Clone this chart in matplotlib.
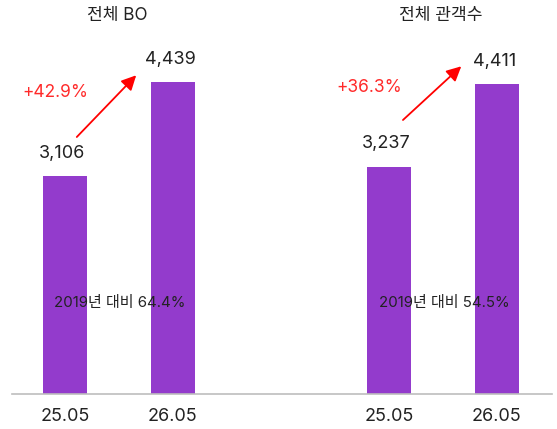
import matplotlib
matplotlib.use("Agg")
import matplotlib.pyplot as plt
from matplotlib.patches import FancyArrowPatch

plt.rcParams['font.family'] = ['Inter', 'Noto Sans CJK KR', 'DejaVu Sans']

panel_titles = ["전체 BO", "전체 관객수"]
categories = ["25.05", "26.05"]
bo_values = [3106, 4439]
audience_values = [3237, 4411]
growth_labels = ["+42.9%", "+36.3%"]
vs2019_labels = ["2019년 대비 64.4%", "2019년 대비 54.5%"]

series = [bo_values, audience_values]
bar_color = "#933BCC"
text_color = "#222222"

W, H = 557, 429
fig = plt.figure(figsize=(W / 100, H / 100), dpi=100)
ax = fig.add_axes([12 / W, 35 / H, 540 / W, 394 / H])

px_per_unit = 0.0702
ymax = 394 / px_per_unit
ax.set_xlim(-0.49, 4.51)
ax.set_ylim(0, ymax)

panel_offsets = [0, 3]
xticks, xticklabels = [], []
for p, (vals, off) in enumerate(zip(series, panel_offsets)):
    xs = [off + i for i in range(len(vals))]
    ax.bar(xs, vals, width=0.407, color=bar_color, zorder=2)
    for x, v in zip(xs, vals):
        ax.annotate(f"{v:,}", (x, v), xytext=(-2, 16.5), textcoords="offset points",
                    ha="center", va="center", fontsize=13, color=text_color)
    xticks += xs
    xticklabels += categories
    # title
    ax.text(off + 0.48, (394 - 15) / px_per_unit, panel_titles[p], ha="center",
            va="center", fontsize=12.3, color=text_color)
    # 2019 comparison
    ax.text(off + 0.51, (394 - 303) / px_per_unit, vs2019_labels[p], ha="center",
            va="center", fontsize=10.8, color=text_color, zorder=3)

# growth arrows
arrow_pts = [((0.11, 3661), (0.66, 4540)), ((3.13, 3903), (3.67, 4668))]
growth_pos = [(-0.09, 4288), (2.82, 4373)]
for (start, end), (gx, gy), lab in zip(arrow_pts, growth_pos, growth_labels):
    arr = FancyArrowPatch(start, end, arrowstyle="-|>", mutation_scale=22,
                          color="#FF0000", lw=1.3, shrinkA=0, shrinkB=0)
    ax.add_patch(arr)
    ax.text(gx, gy, lab, ha="center", va="center", fontsize=12.5, color="#FF2A2A")

ax.set_xticks(xticks)
ax.set_xticklabels(xticklabels, fontsize=13, color=text_color)
ax.tick_params(axis="x", length=0, pad=10)
ax.set_yticks([])
for s in ["top", "right", "left"]:
    ax.spines[s].set_visible(False)
ax.spines["bottom"].set_color("#BDBDBD")
ax.spines["bottom"].set_linewidth(1.2)

fig.savefig("out.png", dpi=100)
